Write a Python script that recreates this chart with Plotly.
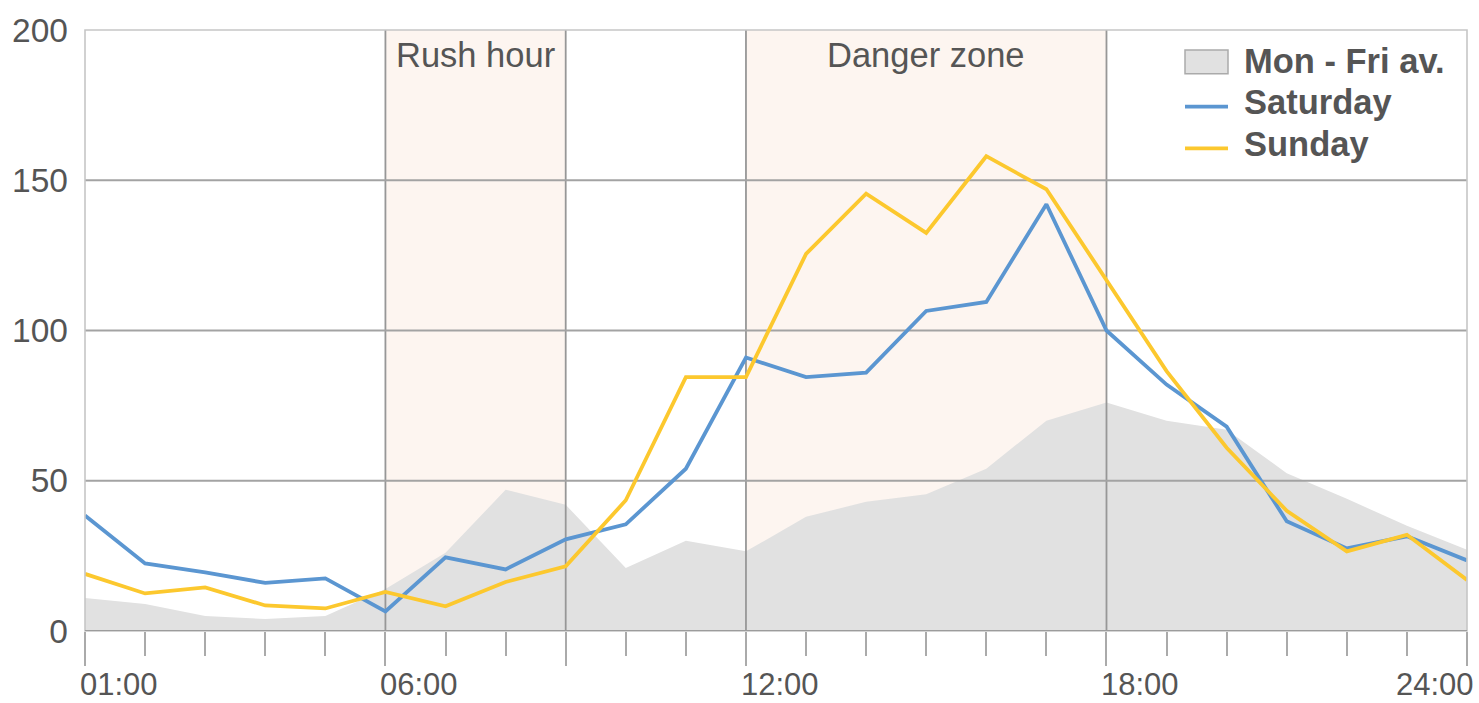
import plotly.graph_objects as go

# ---- data ----
hours = list(range(1, 25))
weekday_avg = [11, 9, 5, 4, 5, 14, 26, 47, 42, 21, 30, 26.5, 38, 43, 45.5, 54,
               70, 76, 70, 67, 52.5, 44, 35, 27]
saturday = [38.4, 22.5, 19.5, 16, 17.5, 6.5, 24.5, 20.5, 30.5, 35.5, 54, 91,
            84.5, 86, 106.5, 109.5, 142, 100, 82, 68, 36.5, 27.5, 31.5, 23.5]
sunday = [19, 12.5, 14.5, 8.5, 7.5, 13, 8.2, 16.3, 21.5, 43.5, 84.5, 84.5,
          125.5, 145.5, 132.5, 158, 147, 117, 86.5, 61, 40, 26.5, 32, 17]

series_names = ["Mon - Fri av.", "Saturday", "Sunday"]
x_label_vals = [1, 6, 12, 18, 24]
x_label_text = ["01:00", "06:00", "12:00", "18:00", "24:00"]
x_major_ticks = [1, 6, 9, 12, 18, 24]
y_ticks = [0, 50, 100, 150, 200]
v_grid = [6, 9, 12, 18]
h_grid = [50, 100, 150]
zones = [(6, 9, "Rush hour"), (12, 18, "Danger zone")]

# ---- style ----
FONT = "Liberation Sans, Arial, Helvetica, sans-serif"
TXT = "#555555"
AREA = "#e1e1e1"
BLUE = "#5b96d1"
YELLOW = "#fcc82e"
PEACH = "#fdf5f0"
GRID = "#a3a3a3"
FRAME = "#c6c6c6"

fig = go.Figure()

fig.add_trace(go.Scatter(x=hours, y=weekday_avg, mode="lines", fill="tozeroy",
                         fillcolor=AREA, line=dict(width=0, color=AREA),
                         name=series_names[0], showlegend=False, hoverinfo="skip"))

# gridlines as traces so they sit above the grey area but below the lines
for v in v_grid:
    fig.add_trace(go.Scatter(x=[v, v], y=[y_ticks[0], y_ticks[-1]], mode="lines",
                             line=dict(color="#979797", width=1.8),
                             showlegend=False, hoverinfo="skip"))
for h in h_grid:
    fig.add_trace(go.Scatter(x=[hours[0], hours[-1]], y=[h, h], mode="lines",
                             line=dict(color=GRID, width=1.8),
                             showlegend=False, hoverinfo="skip"))

fig.add_trace(go.Scatter(x=hours, y=saturday, mode="lines", name=series_names[1],
                         line=dict(color=BLUE, width=3.8), showlegend=False))
fig.add_trace(go.Scatter(x=hours, y=sunday, mode="lines", name=series_names[2],
                         line=dict(color=YELLOW, width=3.8), showlegend=False))

shapes = []
for x0, x1, _ in zones:
    shapes.append(dict(type="rect", xref="x", yref="paper", x0=x0, x1=x1, y0=0, y1=1,
                       fillcolor=PEACH, line=dict(width=0), layer="below"))
# frame
shapes.append(dict(type="rect", xref="paper", yref="paper", x0=0, x1=1, y0=0, y1=1,
                   line=dict(color=FRAME, width=1.6), layer="above"))
# zero line
shapes.append(dict(type="line", xref="paper", yref="y", x0=0, x1=1, y0=0, y1=0,
                   line=dict(color="#9c9c9c", width=2), layer="above"))

# manual legend
px = lambda p: (p - 85) / 1382
py = lambda p: (631 - p) / 604
shapes.append(dict(type="rect", xref="paper", yref="paper", x0=px(1185), x1=px(1228),
                   y0=py(71), y1=py(47), fillcolor=AREA, line=dict(color="#aaaaaa", width=1.5),
                   layer="above"))
shapes.append(dict(type="line", xref="paper", yref="paper", x0=px(1185), x1=px(1228),
                   y0=py(104), y1=py(104), line=dict(color=BLUE, width=3.8), layer="above"))
shapes.append(dict(type="line", xref="paper", yref="paper", x0=px(1185), x1=px(1228),
                   y0=py(146), y1=py(146), line=dict(color=YELLOW, width=3.8), layer="above"))

annotations = []
for name, yc in zip(series_names, [58, 99, 142]):
    annotations.append(dict(text=f"<b>{name}</b>", xref="paper", yref="paper",
                            x=px(1242), y=py(yc), xanchor="left", yanchor="middle",
                            showarrow=False, font=dict(family=FONT, size=34.5, color=TXT)))
for x0, x1, label in zones:
    annotations.append(dict(text=label, xref="x", yref="paper", x=(x0 + x1) / 2, y=1,
                            xanchor="center", yanchor="middle", yshift=-25,
                            showarrow=False, font=dict(family=FONT, size=34.5, color=TXT)))
for v, t in zip(x_label_vals, x_label_text):
    last = v == x_label_vals[-1]
    annotations.append(dict(text=t, xref="x", yref="paper", x=v, y=0,
                            xanchor="right" if last else "left", yanchor="middle",
                            xshift=9 if last else -7, yshift=-53, showarrow=False,
                            font=dict(family=FONT, size=31, color=TXT)))

fig.update_layout(
    width=1479, height=703,
    margin=dict(l=85, r=12, t=27, b=72),
    paper_bgcolor="white", plot_bgcolor="white",
    font=dict(family=FONT, size=33, color=TXT),
    shapes=shapes, annotations=annotations, showlegend=False,
    xaxis=dict(range=[hours[0], hours[-1]], showgrid=False, zeroline=False,
               showline=False, tickmode="array", tickvals=x_major_ticks,
               showticklabels=False, ticks="outside", ticklen=34,
               tickcolor="#aaaaaa", tickwidth=1.6,
               minor=dict(ticks="outside", dtick=1, tick0=1, ticklen=24,
                          tickcolor="#aaaaaa", tickwidth=1.6, showgrid=False)),
    yaxis=dict(range=[y_ticks[0], y_ticks[-1]], showgrid=False, zeroline=False,
               showline=False, tickmode="array", tickvals=y_ticks, ticks="",
               ticklabelstandoff=16, tickfont=dict(family=FONT, size=33.5, color=TXT)),
)

fig.write_html("out.html", config={"displayModeBar": False},
               post_script="document.body.style.margin='0';document.body.style.overflow='hidden';")
